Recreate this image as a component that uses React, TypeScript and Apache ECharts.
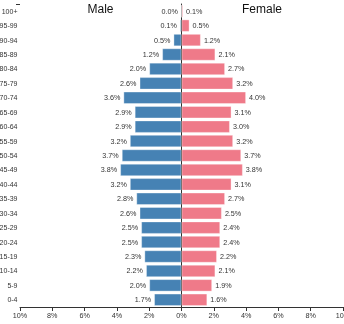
import React, { useEffect, useRef } from "react";
import * as echarts from "echarts";

const ageGroups = ["100+", "95-99", "90-94", "85-89", "80-84", "75-79", "70-74", "65-69", "60-64", "55-59", "50-54", "45-49", "40-44", "35-39", "30-34", "25-29", "20-24", "15-19", "10-14", "5-9", "0-4"];
const maleValues = [0.0, 0.1, 0.5, 1.2, 2.0, 2.6, 3.6, 2.9, 2.9, 3.2, 3.7, 3.8, 3.2, 2.8, 2.6, 2.5, 2.5, 2.3, 2.2, 2.0, 1.7];
const femaleValues = [0.1, 0.5, 1.2, 2.1, 2.7, 3.2, 4.0, 3.1, 3.0, 3.2, 3.7, 3.8, 3.1, 2.7, 2.5, 2.4, 2.4, 2.2, 2.1, 1.9, 1.6];
const seriesNames = ["Male", "Female"];

const FONT = "'Liberation Sans', Arial, sans-serif";

export default function App() {
  const ref = useRef<HTMLDivElement>(null);
  useEffect(() => {
    if (!ref.current) return;
    const chart = echarts.init(ref.current, null, { renderer: "svg" });
    const fmt = (v: number) => Math.abs(v).toFixed(1) + "%";
    const titleStyle = { fontSize: 12, fill: "#111", fontFamily: FONT, align: "center", verticalAlign: "middle" };
    chart.setOption({
      animation: false,
      textStyle: { fontFamily: FONT },
      grid: { left: 20, right: 1, top: 4, bottom: 17, containLabel: false, outerBoundsMode: "none" },
      xAxis: {
        type: "value",
        min: -10,
        max: 10,
        interval: 2,
        splitLine: { show: false },
        axisLine: { show: true, lineStyle: { color: "#333", width: 1 } },
        axisTick: { show: true, length: 4, lineStyle: { color: "#333" } },
        axisLabel: { fontSize: 7.2, color: "#333", margin: 5, hideOverlap: false, formatter: (v: number) => Math.abs(v) + "%" },
      },
      yAxis: {
        type: "category",
        data: ageGroups,
        inverse: true,
        axisLine: { show: true, lineStyle: { color: "#333", width: 1 } },
        axisTick: { show: false },
        axisLabel: { fontSize: 7, color: "#333", margin: 2.5 },
      },
      graphic: [
        { type: "line", shape: { x1: 16, y1: 4.5, x2: 20, y2: 4.5 }, style: { stroke: "#333", lineWidth: 1 } },
        { type: "text", x: 100.5, y: 9, style: { ...titleStyle, text: seriesNames[0] } },
        { type: "text", x: 262, y: 9, style: { ...titleStyle, text: seriesNames[1] } },
      ],
      series: [
        {
          name: seriesNames[0],
          type: "bar",
          data: maleValues.map((v) => -v),
          barWidth: 12.5,
          barGap: "-100%",
          itemStyle: { color: "#4682b4", borderColor: "rgba(255,255,255,0.35)", borderWidth: 1 },
          label: { show: true, position: "left", distance: 3, fontSize: 7.2, color: "#333", formatter: (p: any) => fmt(p.value) },
        },
        {
          name: seriesNames[1],
          type: "bar",
          data: femaleValues,
          barWidth: 12.5,
          barGap: "-100%",
          itemStyle: { color: "#ef7a89", borderColor: "rgba(255,255,255,0.35)", borderWidth: 1 },
          label: { show: true, position: "right", distance: 3, fontSize: 7.2, color: "#333", formatter: (p: any) => fmt(p.value) },
        },
      ],
    });
    return () => chart.dispose();
  }, []);
  return <div ref={ref} style={{ position: "fixed", left: 0, top: 0, width: 344, height: 324 }} />;
}
